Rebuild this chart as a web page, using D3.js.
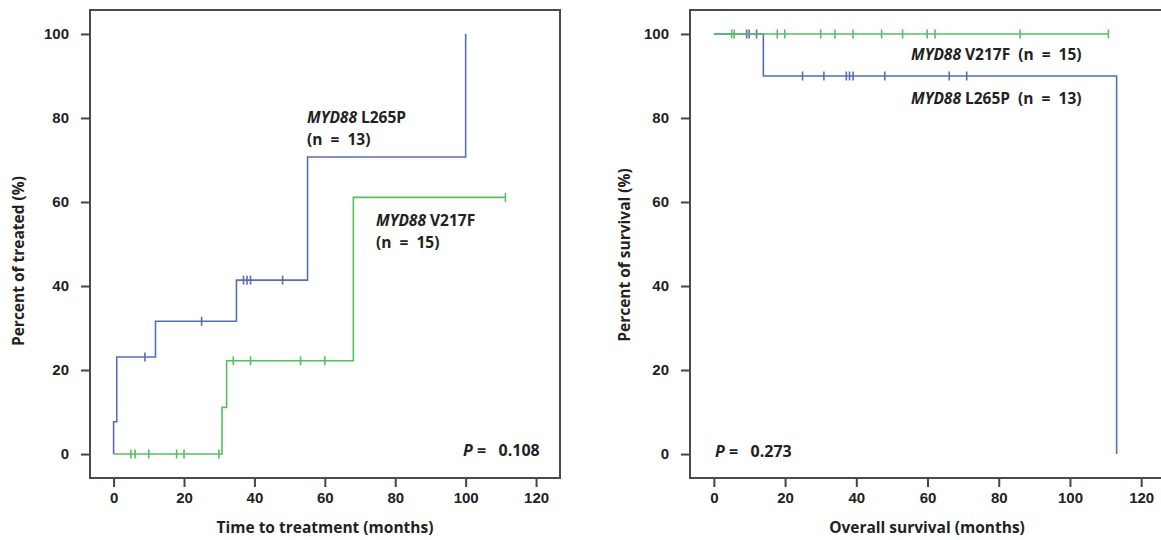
<!DOCTYPE html>
<html>
<head>
<meta charset="utf-8">
<script src="https://cdn.jsdelivr.net/npm/d3@7"></script>
<style>
  body { margin: 0; background: #fff; }
  svg { display: block; font-family: "Open Sans", sans-serif; }
  .tick text { font-size: 15px; font-weight: bold; fill: #222; }
  .tick line { stroke: #444; stroke-width: 2; }
  .lab { font-size: 15px; font-weight: bold; fill: #222; white-space: pre; }
</style>
</head>
<body>
<svg id="chart" width="1161" height="540"></svg>
<script>
// left panel: time to treatment (cumulative %)
const ttt_l265p_times = [0, 0, 0.9, 11.9, 34.9, 55.1, 100];
const ttt_l265p_vals = [0, 7.7, 23.1, 31.6, 41.4, 70.7, 100];
const ttt_l265p_cens = [8.9, 25, 36.9, 37.9, 38.9, 48];

const ttt_v217f_times = [0, 30.8, 32.1, 68.1, 111.3];
const ttt_v217f_vals = [0, 11.1, 22.2, 61.1, 61.1];
const ttt_v217f_cens = [4.9, 6.1, 10, 17.9, 20, 29.9, 34, 38.9, 53.1, 60, 111.3];

// right panel: overall survival (%)
const os_l265p_times = [0, 13.9, 113.1];
const os_l265p_vals = [100, 90, 0];
const os_l265p_cens = [9.2, 9.9, 12, 24.9, 30.9, 37.2, 38.1, 39.1, 48, 66.1, 71];

const os_v217f_times = [0, 110.8];
const os_v217f_vals = [100, 100];
const os_v217f_cens = [5, 5.7, 17.8, 19.9, 30, 34, 39.1, 47.1, 53, 59.9, 62.1, 86, 110.8];

const xTicks = [0, 20, 40, 60, 80, 100, 120];
const yTicks = [0, 20, 40, 60, 80, 100];

const blue = "#5a6cb4";
const green = "#55bf63";

const svg = d3.select("#chart");

// value of a step curve at time t
function stepVal(times, vals, t) {
  let v = vals[0];
  for (let i = 0; i < times.length; i++) {
    if (times[i] <= t) v = vals[i];
  }
  return v;
}

function panel(opt) {
  const x = d3.scaleLinear().domain([-6.7, 126.8]).range(opt.xr);
  const y = d3.scaleLinear().domain([-5.7, 105.7]).range([478, 10]);
  const g = svg.append("g");

  // x axis
  g.append("g")
    .attr("transform", "translate(0,478)")
    .call(d3.axisBottom(x).tickValues(xTicks).tickSize(9).tickSizeOuter(0).tickPadding(5))
    .call(a => a.select(".domain").remove());

  // y axis
  g.append("g")
    .attr("transform", "translate(" + opt.xr[0] + ",0)")
    .call(d3.axisLeft(y).tickValues(yTicks).tickSize(9).tickSizeOuter(0).tickPadding(12))
    .call(a => a.select(".domain").remove());

  // frame
  g.append("rect")
    .attr("x", opt.xr[0]).attr("y", 10)
    .attr("width", opt.xr[1] - opt.xr[0]).attr("height", 468)
    .attr("fill", "none").attr("stroke", "#4a4a4a").attr("stroke-width", 2);

  const line = d3.line()
    .x(d => x(d[0]))
    .y(d => y(d[1]))
    .curve(d3.curveStepAfter);

  opt.series.forEach(s => {
    const pts = s.times.map((t, i) => [t, s.vals[i]]);
    g.append("path")
      .attr("d", line(pts))
      .attr("fill", "none")
      .attr("stroke", s.color)
      .attr("stroke-width", 1.6);

    g.selectAll(null)
      .data(s.cens)
      .enter()
      .append("line")
      .attr("x1", d => x(d)).attr("x2", d => x(d))
      .attr("y1", d => y(stepVal(s.times, s.vals, d)) - 4.5)
      .attr("y2", d => y(stepVal(s.times, s.vals, d)) + 4.5)
      .attr("stroke", s.color)
      .attr("stroke-width", 1.6);
  });

  // axis titles
  g.append("text")
    .attr("class", "lab")
    .attr("text-anchor", "middle")
    .attr("x", opt.xLabX).attr("y", 533)
    .style("font-size", "15.5px")
    .text(opt.xLabel);

  g.append("text")
    .attr("class", "lab")
    .attr("text-anchor", "middle")
    .attr("transform", "translate(" + opt.yLabX + "," + opt.yLabY + ") rotate(-90)")
    .style("font-size", "15.5px")
    .text(opt.yLabel);

  // group labels
  opt.notes.forEach(n => {
    const t = g.append("text")
      .attr("class", "lab")
      .attr("x", n.x).attr("y", n.y)
      .style("font-size", "15.5px");
    if (n.gene) t.append("tspan").attr("font-style", "italic").text(n.gene + " ");
    t.append("tspan").text(n.text);
  });

  // p value
  const p = g.append("text")
    .attr("class", "lab")
    .attr("x", opt.p.x).attr("y", opt.p.y)
    .style("font-size", "16px");
  p.append("tspan").attr("font-style", "italic").text("P");
  p.append("tspan").text(" =   " + opt.p.text);
}

panel({
  xr: [90, 560],
  series: [
    { times: ttt_l265p_times, vals: ttt_l265p_vals, cens: ttt_l265p_cens, color: blue },
    { times: ttt_v217f_times, vals: ttt_v217f_vals, cens: ttt_v217f_cens, color: green }
  ],
  xLabel: "Time to treatment (months)", xLabX: 325,
  yLabel: "Percent of treated (%)", yLabX: 24, yLabY: 261,
  notes: [
    { x: 307, y: 123, gene: "MYD88", text: "L265P" },
    { x: 307, y: 145, gene: "", text: "(n  =  13)" },
    { x: 376, y: 226, gene: "MYD88", text: "V217F" },
    { x: 376, y: 248, gene: "", text: "(n  =  15)" }
  ],
  p: { x: 463, y: 456, text: "0.108" }
});

panel({
  xr: [690, 1165.4],
  series: [
    { times: os_l265p_times, vals: os_l265p_vals, cens: os_l265p_cens, color: blue },
    { times: os_v217f_times, vals: os_v217f_vals, cens: os_v217f_cens, color: green }
  ],
  xLabel: "Overall survival (months)", xLabX: 927,
  yLabel: "Percent of survival (%)", yLabX: 630, yLabY: 255,
  notes: [
    { x: 911, y: 60, gene: "MYD88", text: "V217F  (n  =  15)" },
    { x: 911, y: 104, gene: "MYD88", text: "L265P  (n  =  13)" }
  ],
  p: { x: 715, y: 457, text: "0.273" }
});
</script>
</body>
</html>
